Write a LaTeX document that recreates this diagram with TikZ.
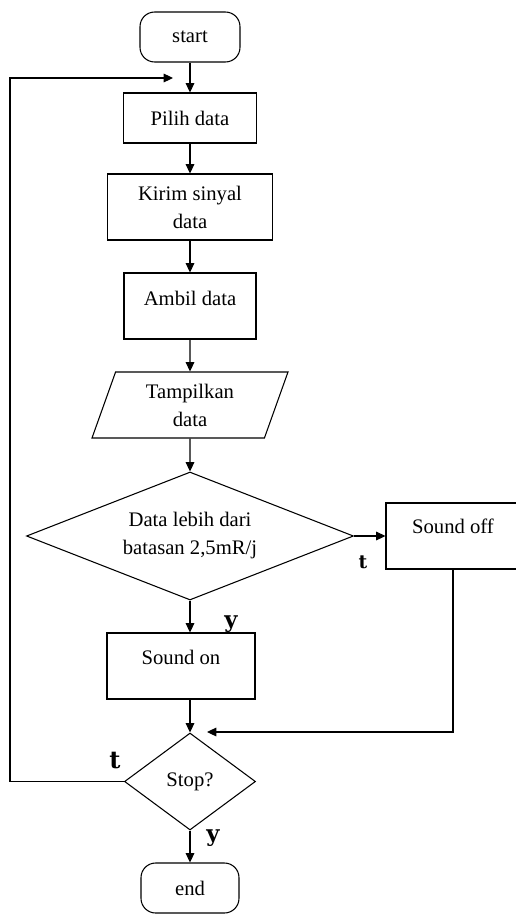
\documentclass[tikz,border=0pt]{standalone}
\usepackage{fontspec}
\setmainfont{Liberation Serif}
\newfontfamily\lblfont{DejaVu Serif}
\usetikzlibrary{shapes.geometric,arrows.meta}
\begin{document}
\begin{tikzpicture}[x=0.75pt,y=-0.75pt,
  every node/.style={font=\fontsize{15.5}{21}\selectfont},
  box/.style={draw, line width=0.8pt, inner sep=0pt, align=center},
  term/.style={box, rounded corners=11pt},
  dia/.style={draw, diamond, line width=0.8pt, inner sep=0pt, align=center},
  io/.style={draw, trapezium, trapezium left angle=61, trapezium right angle=119, trapezium stretches body, line width=0.8pt, inner sep=0pt, align=center},
  flow/.style={line width=0.8pt, -{Triangle[length=7pt,width=6.5pt]}},
  lbl/.style={inner sep=0pt, font=\lblfont\bfseries\fontsize{17}{17}\selectfont}
]
\useasboundingbox (0,0) rectangle (515,914);
\node[term, minimum width=75pt, minimum height=37.5pt] (start) at (190,37) {start};
\node[box, minimum width=99.75pt, minimum height=37.5pt] (pilih) at (190,118) {Pilih data};
\node[box, minimum width=123.75pt, minimum height=49.5pt] (kirim) at (190,207) {Kirim sinyal\\data};
\node[box, minimum width=99pt, minimum height=49.5pt, label={[yshift=6pt]center:Ambil data}] (ambil) at (190,306) {};
\node[io, minimum width=147pt, minimum height=49.5pt] (tamp) at (190,405) {Tampilkan\\data};
\node[dia, aspect=2.5, minimum width=245.25pt, minimum height=96pt] (dec) at (190,536) {Data lebih dari\\batasan 2,5mR/j};
\node[box, minimum width=100.5pt, minimum height=49.5pt, label={[yshift=7pt]center:Sound off}] (soundoff) at (453,536) {};
\node[box, minimum width=111pt, minimum height=49.5pt, label={[yshift=6.75pt]center:Sound on}] (soundon) at (181,666) {};
\node[dia, aspect=1.35, minimum width=98.25pt, minimum height=72.75pt] (stop) at (190,781.5) {Stop?};
\node[term, minimum width=73.5pt, minimum height=37.5pt] (end) at (190,888) {end};

\coordinate (retin) at (207,732);
\coordinate (loopL) at (10,78);
\coordinate (loopin) at (173,78);

\draw[flow] (start) -- (pilih);
\draw[flow] (pilih) -- (kirim);
\draw[flow] (kirim) -- (ambil);
\draw[flow] (ambil) -- (tamp);
\draw[flow] (tamp) -- (dec);
\draw[flow] (dec.east) -- (soundoff.west);
\draw[flow] (dec.south) -- (dec.south |- soundon.north);
\draw[flow] (soundon.south -| stop.north) -- (stop.north);
\draw[flow] (soundoff.south) |- (retin);
\draw[flow] (stop.west) -- (stop.west -| loopL) -- (loopL) -- (loopin);
\draw[flow] (stop) -- (end);

\node[lbl, font=\lblfont\bfseries\fontsize{14}{14}\selectfont] (t1) at (363,562) {t};
\node[lbl] (y1) at (231,624) {y};
\node[lbl, font=\lblfont\bfseries\fontsize{18}{18}\selectfont] (t2) at (115,760) {t};
\node[lbl] (y2) at (213,838) {y};
\end{tikzpicture}
\end{document}
